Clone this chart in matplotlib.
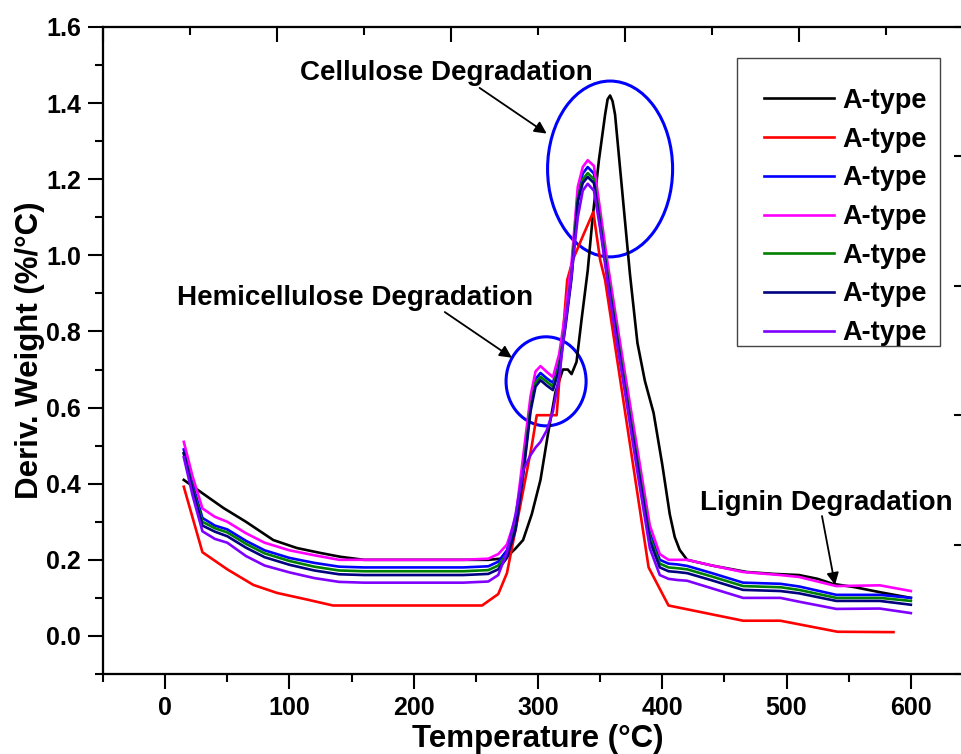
import numpy as np
import matplotlib
matplotlib.use("Agg")
from matplotlib import pyplot as plt
from matplotlib.patches import Ellipse, Rectangle
from matplotlib.ticker import MultipleLocator

plt.rcParams['font.family'] = ['Liberation Sans', 'DejaVu Sans']
plt.rcParams['font.weight'] = 'bold'
plt.rcParams['axes.labelweight'] = 'bold'

# --- data ---
black_x = [15, 30, 47, 65, 87, 106, 125, 141, 160, 200, 260, 270, 275, 282, 288, 295, 302, 308,
           314, 320, 324, 327, 331, 335, 340, 344, 349, 354, 356, 358, 360, 362, 368, 374, 380,
           386, 393, 400, 406, 410, 414, 420, 440, 468, 490, 510, 525, 537, 555, 575, 600]
black_y = [0.41, 0.375, 0.336, 0.30, 0.252, 0.231, 0.218, 0.208, 0.20, 0.20, 0.20, 0.203, 0.208,
           0.23, 0.252, 0.32, 0.41, 0.53, 0.64, 0.70, 0.70, 0.688, 0.72, 0.83, 0.96, 1.10, 1.25,
           1.37, 1.41, 1.42, 1.405, 1.37, 1.16, 0.95, 0.77, 0.67, 0.586, 0.45, 0.32, 0.26, 0.226,
           0.20, 0.185, 0.168, 0.163, 0.16, 0.15, 0.137, 0.128, 0.115, 0.10]

red_x = [15, 30, 50, 71, 90, 115, 135, 200, 255, 268, 275, 285, 295, 299, 315, 319, 323.5, 328,
         336, 344.5, 350, 354, 370, 389, 405, 435, 465, 495, 541, 586]
red_y = [0.392, 0.22, 0.175, 0.134, 0.113, 0.095, 0.08, 0.08, 0.08, 0.11, 0.165, 0.33, 0.50, 0.58,
         0.58, 0.75, 0.935, 0.988, 1.05, 1.114, 0.988, 0.935, 0.59, 0.18, 0.08, 0.06, 0.04, 0.04,
         0.011, 0.01]

temp = [15, 22, 30, 40, 50, 65, 80, 100, 120, 140, 160, 200, 240, 260, 268, 275, 282, 288, 294,
        298, 302, 307, 312, 317, 322, 327, 332, 336, 340, 345, 350, 356, 362, 370, 380, 390, 398,
        405, 412, 420, 440, 465, 495, 510, 540, 575, 600]

magenta_y = [0.51, 0.42, 0.335, 0.313, 0.30, 0.27, 0.245, 0.225, 0.212, 0.20, 0.20, 0.20, 0.20,
             0.203, 0.215, 0.24, 0.31, 0.47, 0.63, 0.695, 0.709, 0.694, 0.68, 0.74, 0.85, 0.98,
             1.18, 1.232, 1.25, 1.235, 1.12, 0.98, 0.854, 0.69, 0.49, 0.29, 0.215, 0.20, 0.20,
             0.20, 0.185, 0.168, 0.16, 0.155, 0.131, 0.133, 0.118]
blue_y = [0.49, 0.40, 0.31, 0.29, 0.28, 0.25, 0.225, 0.205, 0.192, 0.182, 0.18, 0.18, 0.18,
          0.183, 0.195, 0.225, 0.30, 0.44, 0.61, 0.675, 0.691, 0.677, 0.665, 0.72, 0.83, 0.96,
          1.16, 1.215, 1.232, 1.215, 1.10, 0.96, 0.835, 0.67, 0.47, 0.27, 0.20, 0.19, 0.188,
          0.184, 0.165, 0.14, 0.137, 0.13, 0.108, 0.108, 0.10]
green_y = [0.48, 0.39, 0.30, 0.283, 0.272, 0.242, 0.217, 0.197, 0.182, 0.172, 0.17, 0.17, 0.17,
           0.173, 0.185, 0.215, 0.29, 0.43, 0.60, 0.665, 0.681, 0.668, 0.655, 0.71, 0.82, 0.95,
           1.15, 1.20, 1.216, 1.20, 1.09, 0.95, 0.825, 0.66, 0.46, 0.26, 0.19, 0.18, 0.178,
           0.175, 0.156, 0.131, 0.128, 0.121, 0.10, 0.10, 0.092]
navy_y = [0.48, 0.385, 0.29, 0.274, 0.262, 0.232, 0.207, 0.187, 0.172, 0.162, 0.16, 0.16, 0.16,
          0.163, 0.175, 0.205, 0.28, 0.42, 0.59, 0.655, 0.672, 0.658, 0.646, 0.70, 0.81, 0.94,
          1.14, 1.19, 1.206, 1.19, 1.08, 0.94, 0.815, 0.65, 0.45, 0.25, 0.18, 0.17, 0.168,
          0.165, 0.146, 0.121, 0.118, 0.112, 0.092, 0.092, 0.082]
violet_y = [0.47, 0.37, 0.275, 0.255, 0.245, 0.21, 0.185, 0.167, 0.152, 0.142, 0.14, 0.14, 0.14,
            0.143, 0.16, 0.22, 0.32, 0.435, 0.475, 0.495, 0.51, 0.54, 0.59, 0.68, 0.82, 0.95,
            1.10, 1.17, 1.188, 1.17, 1.07, 0.93, 0.80, 0.64, 0.43, 0.23, 0.16, 0.15, 0.147,
            0.145, 0.125, 0.10, 0.10, 0.09, 0.071, 0.072, 0.06]

labels = ['A-type'] * 7

fig = plt.figure(figsize=(9.62, 7.54), dpi=100)
ax = fig.add_axes([103 / 962, 80 / 754, 870 / 962, 647 / 754])

lw = 1.9
ax.plot(black_x, black_y, color='black', lw=lw, label=labels[0])
ax.plot(red_x, red_y, color='#ff0000', lw=lw, label=labels[1])
ax.plot(temp, blue_y, color='#0000ff', lw=lw, label=labels[2])
ax.plot(temp, magenta_y, color='#ff00ff', lw=lw, label=labels[3])
ax.plot(temp, green_y, color='#008000', lw=lw, label=labels[4])
ax.plot(temp, navy_y, color='#000080', lw=lw, label=labels[5])
ax.plot(temp, violet_y, color='#8000ff', lw=lw, label=labels[6])

ax.set_xlim(-50, 650)
ax.set_ylim(-0.1, 1.6)
ax.xaxis.set_minor_locator(MultipleLocator(50))
ax.yaxis.set_minor_locator(MultipleLocator(0.1))
ax.set_xticks(np.arange(0, 601, 100))
ax.set_yticks(np.arange(0, 1.61, 0.2))
ax.set_yticklabels([f'{v:.1f}' for v in np.arange(0, 1.61, 0.2)])
ax.tick_params(which='major', direction='out', length=11, width=1.5, labelsize=18, pad=5)
ax.tick_params(which='minor', direction='out', length=5.5, width=1.5)
for s in ax.spines.values():
    s.set_linewidth(1.5)

ax.set_xlabel('Temperature (°C)', fontsize=22.5, labelpad=3)
ax.set_ylabel('Deriv. Weight (%/°C)', fontsize=22.5, labelpad=1)

# top and right axes carry their own (unlabelled) inward ticks
top = ax.twiny()
top.set_xlim(0, 10)
top.xaxis.set_major_locator(MultipleLocator(2))
top.xaxis.set_minor_locator(MultipleLocator(1))
top.tick_params(axis='x', which='major', direction='in', length=11, width=1.5, labeltop=False)
top.tick_params(axis='x', which='minor', direction='in', length=5.5, width=1.5)
right = ax.twinx()
right.set_ylim(0, 5)
right.yaxis.set_major_locator(MultipleLocator(1))
right.tick_params(axis='y', direction='in', length=14, width=1.5, labelright=False)
for a in (top, right):
    for s in a.spines.values():
        s.set_linewidth(1.5)

# circles and annotations
ax.add_patch(Ellipse((358, 1.227), 100.6, 0.462, fill=False, edgecolor='#0000ff', lw=2.2))
ax.add_patch(Ellipse((306.5, 0.669), 64.4, 0.234, fill=False, edgecolor='#0000ff', lw=2.2))

arrow = dict(arrowstyle='-|>', color='black', lw=1.3, mutation_scale=18, shrinkA=0, shrinkB=0)
ax.text(226, 1.479, 'Cellulose Degradation', fontsize=20, ha='center', va='center')
ax.annotate('', xy=(307, 1.32), xytext=(253, 1.44), arrowprops=arrow)
ax.text(153, 0.888, 'Hemicellulose Degradation', fontsize=20, ha='center', va='center')
ax.annotate('', xy=(279, 0.731), xytext=(225, 0.851), arrowprops=arrow)
ax.text(532, 0.349, 'Lignin Degradation', fontsize=20, ha='center', va='center')
ax.annotate('', xy=(539, 0.134), xytext=(528.5, 0.315), arrowprops=arrow)

# legend box drawn separately so its padding matches the original
ax.add_patch(Rectangle((0.7287, 0.507), 0.2334, 0.445, transform=ax.transAxes, fill=False,
                       edgecolor='#444444', lw=1.0, zorder=4))
leg = ax.legend(loc='upper left', bbox_to_anchor=(0.7598, 0.906), fontsize=19.5,
                handlelength=2.6, handletextpad=0.3, borderpad=0, labelspacing=0.47,
                frameon=False, borderaxespad=0)

fig.savefig('out.png', dpi=100)
